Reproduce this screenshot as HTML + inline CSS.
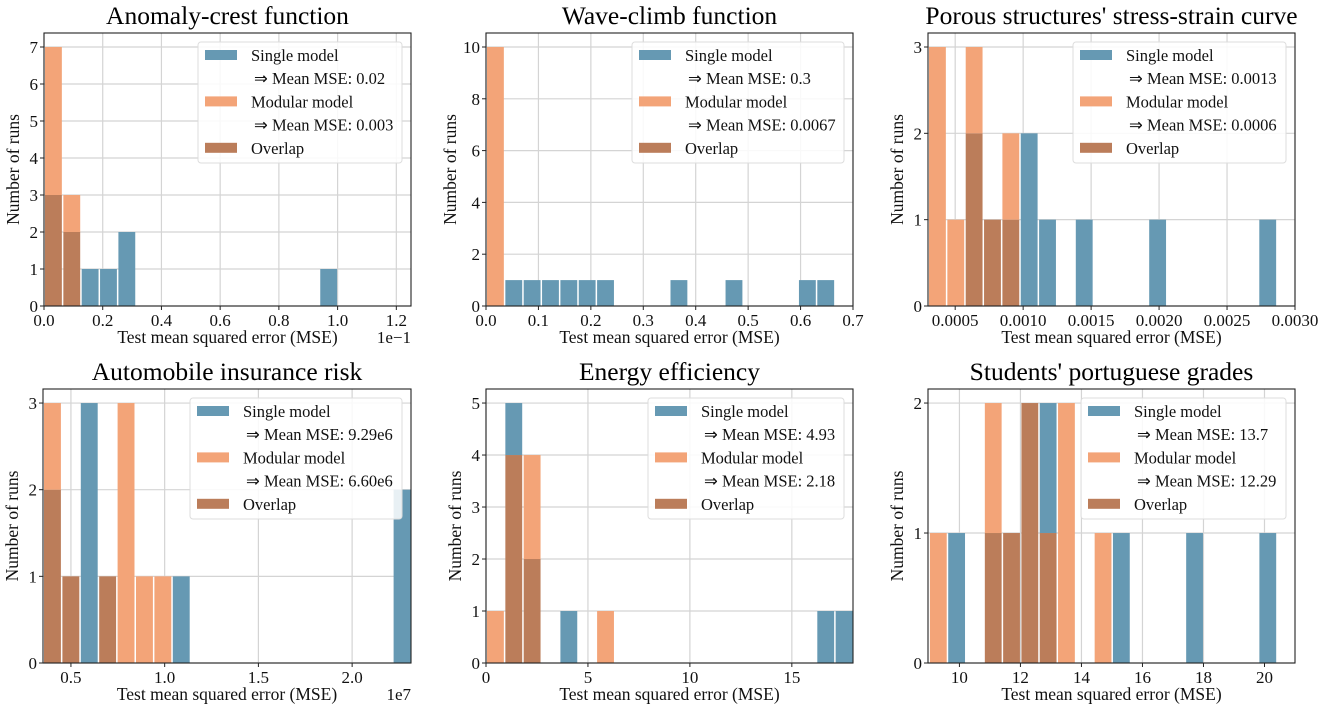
<!DOCTYPE html>
<html><head><meta charset="utf-8">
<style>
html,body{margin:0;padding:0;background:#fff;}
svg{display:block;font-family:"Liberation Serif","Times New Roman",serif;}
</style></head>
<body>
<svg id="fig" width="1325" height="713" viewBox="0 0 1325 713" xmlns="http://www.w3.org/2000/svg"></svg>
<script>
// ---- data arrays (counts per histogram bin) ----
const anomalySingle = [3,2,1,1,2,0,0,0,0,0,0,0,0,0,0,1];
const anomalyModular = [7,3,0,0,0,0,0,0,0,0,0,0,0,0,0,0];
const waveSingle = [0,1,1,1,1,1,1,0,0,0,1,0,0,1,0,0,0,1,1];
const waveModular = [10,0,0,0,0,0,0,0,0,0,0,0,0,0,0,0,0,0,0];
const porousSingle = [0,0,2,1,1,2,1,0,1,0,0,0,1,0,0,0,0,0,1,0];
const porousModular = [3,1,3,1,2,0,0,0,0,0,0,0,0,0,0,0,0,0,0,0];
const autoSingle = [2,1,3,1,0,0,0,1,0,0,0,0,0,0,0,0,0,0,0,2];
const autoModular = [3,1,0,1,3,1,1,0,0,0,0,0,0,0,0,0,0,0,0,0];
const energySingle = [0,5,2,0,1,0,0,0,0,0,0,0,0,0,0,0,0,0,1,1];
const energyModular = [1,4,4,0,0,0,1,0,0,0,0,0,0,0,0,0,0,0,0,0];
const gradesSingle = [0,1,0,1,1,2,2,0,0,0,1,0,0,0,1,0,0,0,1,0];
const gradesModular = [1,0,0,2,1,2,1,2,0,1,0,0,0,0,0,0,0,0,0,0];
// tick labels
const anomalyTicks = [0.0,0.2,0.4,0.6,0.8,1.0,1.2];
const waveTicks = [0.0,0.1,0.2,0.3,0.4,0.5,0.6,0.7];
const porousTicks = [0.0005,0.0010,0.0015,0.0020,0.0025,0.0030];
const autoTicks = [0.5,1.0,1.5,2.0];
const energyTicks = [0,5,10,15];
const gradesTicks = [10,12,14,16,18,20];
// legend means
const meanSingle = ["0.02","0.3","0.0013","9.29e6","4.93","13.7"];
const meanModular = ["0.003","0.0067","0.0006","6.60e6","2.18","12.29"];

const plots = [
 {name:"anomaly-crest",title:"Anomaly-crest function",l:44,r:411,t:33,b:306,xmin:0,xmax:1.25,start:0,w:0.0625,s:anomalySingle,m:anomalyModular,xt:anomalyTicks,dec:1,yt:1,off:"1e\u22121",lw:204},
 {name:"wave-climb",title:"Wave-climb function",l:486,r:853,t:33,b:306,xmin:0,xmax:0.7,start:0,w:0.035,s:waveSingle,m:waveModular,xt:waveTicks,dec:1,yt:2,off:"",lw:212},
 {name:"porous",title:"Porous structures' stress-strain curve",l:928,r:1295,t:33,b:306,xmin:0.0003,xmax:0.003,start:0.0003,w:0.000135,s:porousSingle,m:porousModular,xt:porousTicks,dec:4,yt:1,off:"",lw:213},
 {name:"automobile",title:"Automobile insurance risk",l:43,r:411,t:389,b:663,xmin:0.351,xmax:2.314,start:0.351,w:0.09815,s:autoSingle,m:autoModular,xt:autoTicks,dec:1,yt:1,off:"1e7",lw:212},
 {name:"energy",title:"Energy efficiency",l:486,r:853,t:389,b:663,xmin:0,xmax:18,start:0,w:0.9,s:energySingle,m:energyModular,xt:energyTicks,dec:0,yt:1,off:"",lw:196},
 {name:"grades",title:"Students' portuguese grades",l:928,r:1295,t:389,b:663,xmin:8.97,xmax:21.0,start:9.0,w:0.6,s:gradesSingle,m:gradesModular,xt:gradesTicks,dec:0,yt:1,off:"",lw:205}
];
const BLUE="#6699b3", ORANGE="#f3a478", BROWN="#bb7d5a";
const NS="http://www.w3.org/2000/svg";
const svg=document.getElementById('fig');
function mk(tag,attrs,parent,text){const e=document.createElementNS(NS,tag);for(const k in attrs)e.setAttribute(k,attrs[k]);if(text!==undefined)e.textContent=text;parent.appendChild(e);return e;}

plots.forEach(p=>{
  const g=mk('g',{},svg);
  
  
  const maxC=Math.max(...p.s,...p.m);
  const ymax=maxC*1.054;
  const X=v=>p.l+(v-p.xmin)/(p.xmax-p.xmin)*(p.r-p.l);
  const Y=v=>p.b-v/ymax*(p.b-p.t);
  // grid
  p.xt.forEach(v=>{const x=X(v);mk('line',{x1:x,x2:x,y1:p.t,y2:p.b,stroke:'#d4d4d4','stroke-width':1.2},g);});
  for(let v=0;v<=maxC;v+=p.yt){const y=Y(v);mk('line',{x1:p.l,x2:p.r,y1:y,y2:y,stroke:'#d4d4d4','stroke-width':1.2},g);}
  // bars
  const n=Math.max(p.s.length,p.m.length);
  for(let i=0;i<n;i++){
    const s=p.s[i]||0, m=p.m[i]||0;
    const x0=X(p.start+i*p.w), x1=X(p.start+(i+1)*p.w);
    const lo=Math.min(s,m), hi=Math.max(s,m);
    const bx=x0+1, bw=Math.max(0,x1-x0-1.5);
    if(lo>0){const r=mk('rect',{x:bx,y:Y(lo),width:bw,height:Y(0)-Y(lo),fill:BROWN},g);
      
      }
    if(hi>lo){const r=mk('rect',{x:bx,y:Y(hi),width:bw,height:Y(lo)-Y(hi),fill:s>m?BLUE:ORANGE},g);
      
      }
  }
  // spines
  mk('rect',{x:p.l,y:p.t,width:p.r-p.l,height:p.b-p.t,fill:'none',stroke:'#222','stroke-width':1.1},g);
  // x ticks
  p.xt.forEach(v=>{const x=X(v);mk('line',{x1:x,x2:x,y1:p.b,y2:p.b+4,stroke:'#222'},g);
    const t=mk('text',{x:x,y:p.b+20,'text-anchor':'middle','font-size':17,fill:'#111'},g,v.toFixed(p.dec));
    
    });
  for(let v=0;v<=maxC;v+=p.yt){const y=Y(v);mk('line',{x1:p.l-4,x2:p.l,y1:y,y2:y,stroke:'#222'},g);
    const t=mk('text',{x:p.l-6,y:y+6,'text-anchor':'end','font-size':17,fill:'#111'},g,String(v));
    
    }
  // labels
  const cx=(p.l+p.r)/2;
  const ti=mk('text',{x:cx,y:p.t-9,'text-anchor':'middle','font-size':25.5,fill:'#000'},g,p.title);
  
  
  const xl=mk('text',{x:cx,y:p.b+37,'text-anchor':'middle','font-size':17.5,fill:'#111'},g,'Test mean squared error (MSE)');
  
  
  const ycx=p.l-(p.yt===2?30:25), ycy=(p.t+p.b)/2;
  const yl=mk('text',{x:ycx,y:ycy,'text-anchor':'middle','font-size':17.5,fill:'#111',transform:`rotate(-90 ${ycx} ${ycy})`},g,'Number of runs');
  
  
  if(p.off){const o=mk('text',{x:p.r,y:p.b+37,'text-anchor':'end','font-size':17,fill:'#111'},g,p.off);
    
    }
  // legend
  const idx=plots.indexOf(p);
  const lx=p.r-9-p.lw, ly=p.t+9;
  const lg=mk('g',{},g);
  
  
  mk('rect',{x:lx,y:ly,width:p.lw,height:121,rx:3,fill:'#fff','fill-opacity':0.85,stroke:'#ddd'},lg);
  const rows=[["Single model",BLUE],["\u21d2  Mean MSE: "+meanSingle[idx],null],["Modular model",ORANGE],["\u21d2  Mean MSE: "+meanModular[idx],null],["Overlap",BROWN]];
  rows.forEach((r,k)=>{const yy=ly+13+k*23.2;
    if(r[1]){mk('rect',{x:lx+7,y:yy-5,width:32,height:10,fill:r[1]},lg);}
    const t=mk('text',{x:r[1]?lx+53:lx+56,y:yy+6,'font-size':16.5,fill:'#111'},lg,r[0]);
    
    });
});
</script>
</body></html>
